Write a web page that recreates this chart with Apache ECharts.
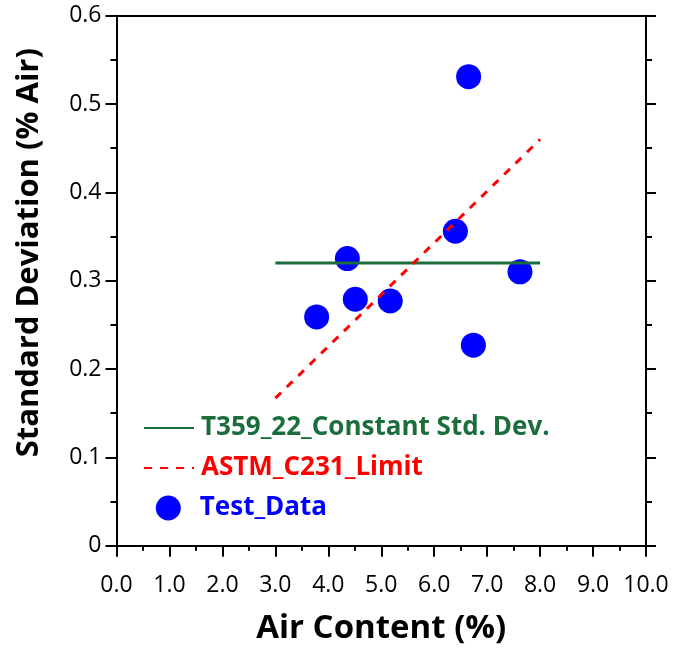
<!DOCTYPE html>
<html>
<head>
<meta charset="utf-8">
<script src="https://cdn.jsdelivr.net/npm/echarts@6/dist/echarts.min.js"></script>
<style>
  html, body { margin: 0; padding: 0; background: #fff; }
  #chart { width: 675px; height: 654px; }
</style>
</head>
<body>
<div id="chart"></div>
<script>
// data
const testAir = [6.65, 6.40, 4.36, 7.62, 4.51, 5.17, 3.78, 6.74];
const testStd = [0.531, 0.356, 0.325, 0.310, 0.279, 0.277, 0.259, 0.227];
const constX = [3.0, 8.0];
const constStd = [0.32, 0.32];
const limitX = [3.0, 8.0];
const limitStd = [0.167, 0.460];

const FONT = 'Open Sans';
const GREEN = '#1b6e3b';

function pairs(xs, ys) {
  return xs.map((x, i) => [x, ys[i]]);
}

const chart = echarts.init(document.getElementById('chart'));

const axisLine = { show: true, onZero: false, lineStyle: { color: '#000', width: 2 } };

// one legend block per series so each text gets its own colour
function legendBlock(name, color, left, top, w, h, pad, extra) {
  return Object.assign({
    data: [name], left: left, top: top, orient: 'vertical',
    itemWidth: w, itemHeight: h, itemGap: 0,
    textStyle: { color: color, fontFamily: FONT, fontSize: 26, fontWeight: 'bold', padding: [0, 0, 0, pad] }
  }, extra || {});
}

const option = {
  animation: false,
  grid: { left: 116.5, right: 29, top: 15.7, bottom: 108.3, containLabel: false },
  xAxis: [
    {
      type: 'value', min: 0, max: 10, interval: 1, position: 'bottom',
      axisLine: axisLine,
      axisTick: { show: true, inside: false, length: 11, lineStyle: { width: 2, color: '#000' } },
      minorTick: { show: true, splitNumber: 2, length: 5, lineStyle: { width: 2, color: '#000' } },
      splitLine: { show: false },
      axisLabel: { margin: 28, color: '#000', fontFamily: FONT, fontSize: 23, formatter: v => v.toFixed(1) },
      name: 'Air Content (%)', nameLocation: 'middle', nameGap: 66,
      nameTextStyle: { color: '#000', fontFamily: FONT, fontSize: 33, fontWeight: 'bold' }
    },
    {
      type: 'value', min: 0, max: 10, interval: 1, position: 'top',
      axisLine: axisLine, axisTick: { show: false }, axisLabel: { show: false },
      splitLine: { show: false }
    }
  ],
  yAxis: [
    {
      type: 'value', min: 0, max: 0.6, interval: 0.1, position: 'left',
      axisLine: axisLine,
      axisTick: { show: true, inside: false, length: 11, lineStyle: { width: 2, color: '#000' } },
      minorTick: { show: true, splitNumber: 2, length: 6, lineStyle: { width: 2, color: '#000' } },
      splitLine: { show: false },
      axisLabel: { margin: 15, color: '#000', fontFamily: FONT, fontSize: 23,
        formatter: v => (v === 0 ? '0' : v.toFixed(1)) },
      name: 'Standard Deviation (% Air)', nameLocation: 'middle', nameGap: 72, nameRotate: 90,
      nameTextStyle: { color: '#000', fontFamily: FONT, fontSize: 31, fontWeight: 'bold', padding: [0, 0, 0, 56] }
    },
    {
      type: 'value', min: 0, max: 0.6, interval: 0.1, position: 'right',
      axisLine: axisLine,
      axisTick: { show: true, inside: false, length: 10, lineStyle: { width: 2, color: '#000' } },
      minorTick: { show: true, splitNumber: 2, length: 6, lineStyle: { width: 2, color: '#000' } },
      splitLine: { show: false }, axisLabel: { show: false }
    }
  ],
  legend: [
    legendBlock('T359_22_Constant Std. Dev.', GREEN, 138, 410, 50, 14, 2, { itemStyle: { opacity: 0 } }),
    legendBlock('ASTM_C231_Limit', '#ff0000', 138, 450, 50, 14, 2, { itemStyle: { opacity: 0 } }),
    legendBlock('Test_Data', '#0000ff', 150.8, 490, 25, 25, 14, { icon: 'circle' })
  ],
  series: [
    {
      name: 'T359_22_Constant Std. Dev.', type: 'line', symbol: 'none',
      data: pairs(constX, constStd),
      lineStyle: { color: GREEN, width: 3 }, itemStyle: { color: GREEN }
    },
    {
      name: 'ASTM_C231_Limit', type: 'line', symbol: 'none',
      data: pairs(limitX, limitStd),
      lineStyle: { color: '#ff0000', width: 3, type: [8, 8] }, itemStyle: { color: '#ff0000' }
    },
    {
      name: 'Test_Data', type: 'scatter', symbol: 'circle', symbolSize: 25,
      data: pairs(testAir, testStd),
      itemStyle: { color: '#0000ff', opacity: 1 }
    }
  ]
};

chart.setOption(option);
</script>
</body>
</html>
